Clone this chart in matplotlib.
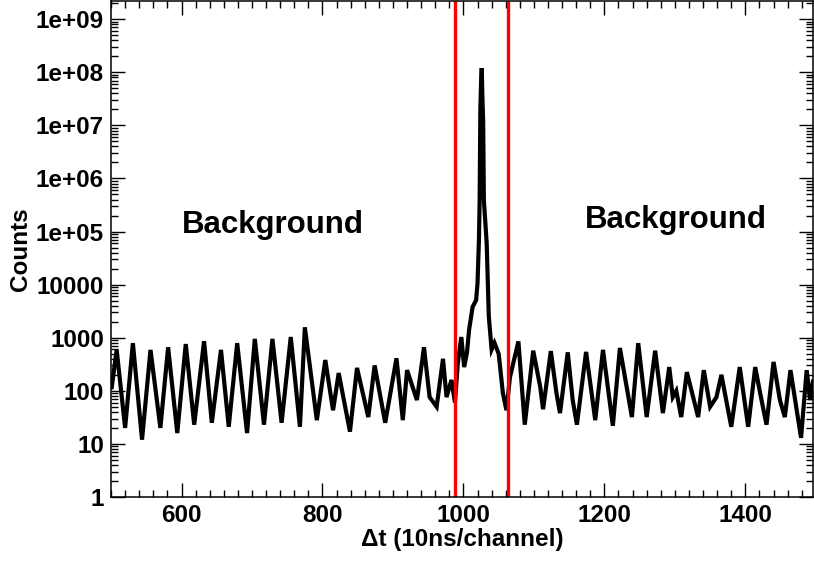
import matplotlib.pyplot as plt
from matplotlib.ticker import MultipleLocator, LogLocator, FixedLocator, NullFormatter

# channel / counts (peaks and troughs)
channel = [501, 508, 520, 531, 544, 556, 570, 581, 594, 606, 618, 632, 643, 656,
           667, 679, 693, 704, 717, 729, 742, 755, 768, 775, 792, 804, 815, 823,
           839, 849, 865, 874, 889, 905, 914, 920, 934, 944, 952, 962, 971, 976,
           983, 988, 992, 997, 1001, 1005, 1008, 1013, 1018, 1020, 1022, 1023,
           1024, 1025, 1026, 1027, 1028, 1029, 1033, 1036, 1040, 1044, 1050,
           1056, 1061, 1066, 1078, 1087, 1099, 1109, 1113, 1124, 1132, 1137,
           1148, 1155, 1161, 1174, 1187, 1198, 1212, 1222, 1239, 1248, 1260,
           1272, 1283, 1292, 1297, 1302, 1309, 1317, 1333, 1341, 1350, 1359,
           1366, 1380, 1392, 1404, 1414, 1421, 1430, 1440, 1449, 1456, 1464,
           1479, 1487, 1492, 1496]
counts = [117, 590, 20, 790, 12, 590, 20, 660, 16, 760, 23, 860, 25, 590,
          21, 790, 16, 950, 23, 950, 25, 1030, 21, 1570, 28, 380, 43, 216,
          17, 270, 32, 300, 25, 410, 28, 245, 67, 660, 76, 50, 400, 76,
          160, 60, 330, 1030, 280, 520, 1400, 3800, 5100, 10700, 70000, 3.9e5,
          2e7, 6.3e7, 1.2e8, 3e7, 1.2e7, 3.9e5, 6e4, 2500, 600, 800, 500,
          90, 43, 180, 850, 23, 570, 117, 45, 560, 90, 38,
          530, 67, 23, 540, 28, 590, 22, 640, 32, 790, 32,
          570, 38, 280, 76, 100, 32, 225, 32, 245, 50, 76,
          200, 21, 280, 21, 280, 90, 23, 350, 67, 32, 245,
          13, 245, 67, 150]

cut_lo, cut_hi = 988, 1063

xticks = [600, 800, 1000, 1200, 1400]
ydecades = [1, 10, 100, 1000, 10000, 1e5, 1e6, 1e7, 1e8, 1e9]
ylabels = ["1", "10", "100", "1000", "10000", "1e+05", "1e+06", "1e+07", "1e+08", "1e+09"]

plt.rcParams['font.family'] = ['Liberation Sans', 'DejaVu Sans']
plt.rcParams['font.weight'] = 'bold'

fig = plt.figure(figsize=(8.14, 5.62), dpi=100)
ax = fig.add_axes([0.1364, 0.1157, 0.8624, 0.8825])

ax.plot(channel, counts, color='black', lw=3.0, solid_joinstyle='miter')
ax.axvline(cut_lo, color='#ff0000', lw=2.4)
ax.axvline(cut_hi, color='#ff0000', lw=2.4)

ax.set_yscale('log')
ax.set_xlim(500, 1496)
ax.set_ylim(1, 2.2e9)

ax.xaxis.set_major_locator(FixedLocator(xticks))
ax.xaxis.set_minor_locator(MultipleLocator(20))
ax.set_xticklabels([str(t) for t in xticks])
ax.yaxis.set_major_locator(FixedLocator(ydecades))
ax.set_yticklabels(ylabels)
ax.yaxis.set_minor_locator(LogLocator(base=10, subs=range(2, 10), numticks=20))
ax.yaxis.set_minor_formatter(NullFormatter())

ax.tick_params(which='both', direction='in', top=True, right=True, width=1.0,
               labelsize=17.5)
ax.tick_params(which='major', length=10, pad=5)
ax.tick_params(which='minor', length=5)
for s in ax.spines.values():
    s.set_linewidth(1.1)

ax.set_xlabel("Δt (10ns/channel)", fontsize=17.5, fontweight='bold', labelpad=1)
ax.set_ylabel("Counts", fontsize=17.5, fontweight='bold', labelpad=3)

ax.text(730, 9.4e4, "Background", fontsize=22.5, fontweight='bold',
        ha='center', va='baseline')
ax.text(1301, 1.17e5, "Background", fontsize=22.5, fontweight='bold',
        ha='center', va='baseline')

fig.savefig("out.png", dpi=100)
